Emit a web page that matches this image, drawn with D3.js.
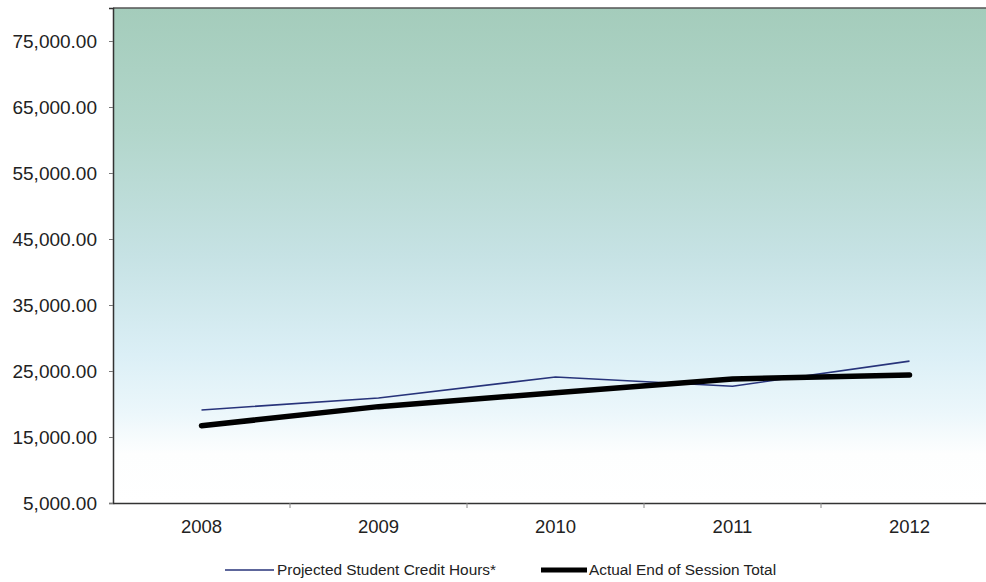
<!DOCTYPE html>
<html><head><meta charset="utf-8">
<script src="https://cdn.jsdelivr.net/npm/d3@7"></script>
<style>body{margin:0;background:#fff;}svg{display:block;font-family:Arial,"Liberation Sans",sans-serif;}</style>
</head><body>
<svg id="c" width="986" height="582"></svg>
<script>
const years = ["2008","2009","2010","2011","2012"];
const projected = [19100, 20900, 24100, 22700, 26500];
const actual = [16700, 19600, 21700, 23800, 24400];
const yTicks = [5000, 15000, 25000, 35000, 45000, 55000, 65000, 75000];
const seriesNames = ["Projected Student Credit Hours*", "Actual End of Session Total"];

const svg = d3.select("#c");
const L = 113, R = 998, T = 8, B = 503;
const x = d3.scaleBand().domain(years).range([L, R]);
const y = d3.scaleLinear().domain([5000, 80000]).range([B, T]);

const defs = svg.append("defs");
const g = defs.append("linearGradient").attr("id","bg").attr("x1",0).attr("y1",0).attr("x2",0).attr("y2",1);
[[0,"#a4ccbb"],[0.25,"#b2d6cb"],[0.5,"#c6e2e4"],[0.7,"#dbeff6"],[0.82,"#ecf7fb"],[0.9,"#fdfefe"],[1,"#ffffff"]]
  .forEach(([o,c]) => g.append("stop").attr("offset",o).attr("stop-color",c));

svg.append("rect").attr("x",L).attr("y",T).attr("width",R-L).attr("height",B-T).attr("fill","url(#bg)");
svg.append("line").attr("x1",L).attr("x2",R).attr("y1",T).attr("y2",T).attr("stroke","#555").attr("stroke-width",1.5);

// y axis
const ya = svg.append("g").attr("transform",`translate(${L},0)`)
  .call(d3.axisLeft(y).tickValues(yTicks).tickSize(4).tickPadding(12)
    .tickFormat(d => d3.format(",.2f")(d)));
ya.select(".domain").attr("stroke","#333").attr("stroke-width",1.5);
ya.selectAll(".tick line").attr("stroke","#777");
ya.selectAll("text").attr("font-size",19).attr("fill","#222").attr("font-family","Arial, 'Liberation Sans', sans-serif");

// x axis
const xa = svg.append("g").attr("transform",`translate(0,${B})`)
  .call(d3.axisBottom(x).tickSize(0).tickPadding(17));
xa.select(".domain").attr("stroke","#333").attr("stroke-width",1.5);
xa.selectAll("text").attr("font-size",18.5).attr("fill","#222").attr("font-family","Arial, 'Liberation Sans', sans-serif");
// category boundary ticks
xa.selectAll(".sep").data(years.slice(1)).enter().append("line").attr("class","sep")
  .attr("x1",d=>x(d)).attr("x2",d=>x(d)).attr("y1",0).attr("y2",5).attr("stroke","#888");

const cx = d => x(d) + x.bandwidth()/2;
const line = d3.line().x((d,i)=>cx(years[i])).y(d=>y(d));

svg.append("path").datum(projected).attr("d",line).attr("fill","none")
  .attr("stroke","#27337a").attr("stroke-width",1.6);
svg.append("path").datum(actual).attr("d",line).attr("fill","none")
  .attr("stroke","#000").attr("stroke-width",5.5).attr("stroke-linecap","round").attr("stroke-linejoin","round");

// legend
const lg = svg.append("g").attr("font-size",15.4).attr("fill","#222");
lg.append("line").attr("x1",225).attr("x2",274).attr("y1",570).attr("y2",570).attr("stroke","#27337a").attr("stroke-width",1.6);
lg.append("text").attr("x",277).attr("y",575).text(seriesNames[0]);
lg.append("line").attr("x1",541).attr("x2",587).attr("y1",570).attr("y2",570).attr("stroke","#000").attr("stroke-width",5);
lg.append("text").attr("x",589).attr("y",575).text(seriesNames[1]);
</script>
</body></html>
